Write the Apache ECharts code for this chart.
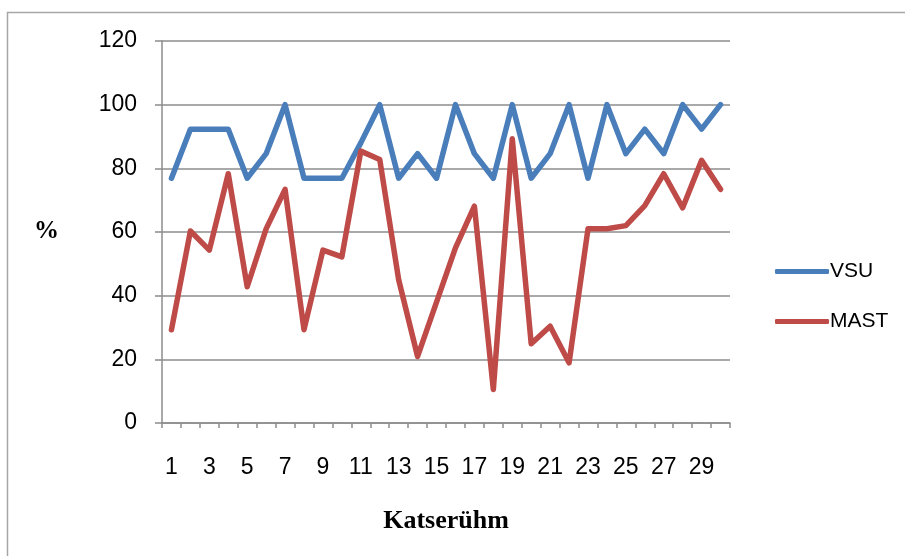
<!DOCTYPE html>
<html>
<head>
<meta charset="utf-8">
<script src="https://cdn.jsdelivr.net/npm/echarts@6/dist/echarts.min.js"></script>
<style>
html,body{margin:0;padding:0;background:#fff;}
#chart{width:905px;height:556px;}
</style>
</head>
<body>
<div id="chart"></div>
<script>
const categories = ["1","2","3","4","5","6","7","8","9","10","11","12","13","14","15","16","17","18","19","20","21","22","23","24","25","26","27","28","29","30"];
const vsu  = [76.9,92.3,92.3,92.3,76.9,84.6,100,76.9,76.9,76.9,88,100,76.9,84.6,76.9,100,84.6,76.9,100,76.9,84.6,100,76.9,100,84.6,92.3,84.6,100,92.3,100];
const mast = [29.3,60.3,54.3,78.3,42.8,61,73.4,29.3,54.3,52.2,85.4,82.8,45,20.9,38,55,68.1,10.5,89.3,24.9,30.4,18.9,61,61,62,68.3,78.3,67.6,82.5,73.4];
const yMin = 0, yMax = 120, yStep = 20;

const sans = "'Liberation Sans', Arial, sans-serif";
const serif = "'Liberation Serif', 'Times New Roman', serif";
const gridColor = '#8c8c8c';
const blue = '#4a7ebb', red = '#be4b48';

const chart = echarts.init(document.getElementById('chart'), null, {renderer: 'canvas'});
chart.setOption({
  animation: false,
  backgroundColor: '#fff',
  graphic: [{
    type: 'rect',
    shape: {x: 7.5, y: 12.5, width: 1200, height: 1200},
    style: {fill: 'none', stroke: '#a6a6a6', lineWidth: 1.5},
    silent: true
  }],
  grid: {left: 162, right: 175, top: 41, bottom: 133, containLabel: false},
  legend: {
    orient: 'vertical',
    left: 770,
    top: 256,
    itemWidth: 54,
    itemHeight: 5,
    itemGap: 29,
    icon: 'roundRect',
    textStyle: {fontFamily: sans, fontSize: 21, color: '#000', padding: [0, 0, 0, -4]},
    data: [
      {name: 'VSU', itemStyle: {color: blue}},
      {name: 'MAST', itemStyle: {color: red}}
    ]
  },
  xAxis: {
    type: 'category',
    data: categories,
    boundaryGap: true,
    name: 'Katserühm',
    nameLocation: 'middle',
    nameGap: 85,
    nameTextStyle: {fontFamily: serif, fontWeight: 'bold', fontSize: 26, color: '#000'},
    axisLine: {lineStyle: {color: gridColor, width: 1.5}},
    axisTick: {show: true, interval: 0, length: 5, inside: false, lineStyle: {color: gridColor, width: 1.5}},
    axisLabel: {interval: 1, margin: 33, fontFamily: sans, fontSize: 23, color: '#000'},
    splitLine: {show: false}
  },
  yAxis: {
    type: 'value',
    min: yMin, max: yMax, interval: yStep,
    name: '%',
    nameLocation: 'middle',
    nameRotate: 0,
    nameGap: 103,
    nameTextStyle: {fontFamily: serif, fontWeight: 'bold', fontSize: 25, color: '#000'},
    axisLine: {show: true, lineStyle: {color: gridColor, width: 1.5}},
    axisTick: {show: true, length: 7, lineStyle: {color: gridColor, width: 1.5}},
    axisLabel: {margin: 25, fontFamily: sans, fontSize: 23, color: '#000'},
    splitLine: {show: true, lineStyle: {color: gridColor, width: 1.5}}
  },
  series: [
    {name: 'VSU', type: 'line', data: vsu, symbol: 'none', color: blue,
     lineStyle: {width: 5.5, color: blue, cap: 'round', join: 'round'}},
    {name: 'MAST', type: 'line', data: mast, symbol: 'none', color: red,
     lineStyle: {width: 5.5, color: red, cap: 'round', join: 'round'}}
  ]
});
</script>
</body>
</html>
